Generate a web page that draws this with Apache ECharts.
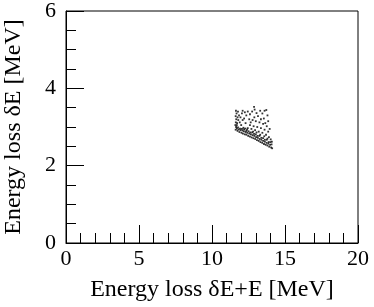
<!DOCTYPE html>
<html>
<head>
<meta charset="utf-8">
<script src="https://cdn.jsdelivr.net/npm/echarts@6/dist/echarts.min.js"></script>
<style>
html,body{margin:0;padding:0;background:#fff;}
#chart{width:374px;height:307px;}
</style>
</head>
<body>
<div id="chart"></div>
<script>
var xTitle = 'Energy loss δE+E [MeV]';
var yTitle = 'Energy loss δE [MeV]';
var xRange = [0, 20];
var yRange = [0, 6];
var points = [
 [11.62,2.93],[11.70,2.96],[11.75,2.90],[11.82,2.94],[11.88,2.87],[11.95,2.92],[12.02,2.85],[12.08,2.91],[12.12,2.83],[12.18,2.89],
 [12.25,2.81],[12.30,2.87],[12.36,2.80],[12.42,2.85],[12.48,2.77],[12.55,2.83],[12.60,2.75],[12.66,2.81],[12.72,2.73],[12.78,2.79],
 [12.84,2.71],[12.90,2.77],[12.96,2.69],[13.02,2.74],[13.08,2.66],[13.14,2.72],[13.20,2.64],[13.26,2.69],[13.32,2.61],[13.38,2.67],
 [13.44,2.59],[13.50,2.64],[13.56,2.56],[13.62,2.62],[13.68,2.54],[13.74,2.59],[13.80,2.52],[13.86,2.57],[13.92,2.49],[13.98,2.54],
 [14.05,2.47],[14.12,2.45],
 [11.65,3.00],[11.78,2.99],[11.92,2.96],[12.05,2.95],[12.20,2.94],[12.35,2.90],[12.50,2.89],[12.62,2.86],[12.75,2.86],[12.88,2.82],
 [13.00,2.81],[13.12,2.77],[13.25,2.77],[13.38,2.72],[13.50,2.71],[13.62,2.67],[13.75,2.67],[13.88,2.61],[14.00,2.61],[14.08,2.55],
 [12.45,2.97],[12.70,2.95],[12.95,2.92],[13.20,2.88],[13.45,2.85],[13.70,2.80],[13.90,2.74],[14.02,2.68],[12.60,3.05],[12.85,3.02],
 [13.10,3.00],[13.35,2.97],[13.60,2.93],[13.85,2.88],[13.95,2.95],[13.75,3.02],[13.50,3.08],[13.25,3.12],[13.00,3.15],[12.78,3.18],
 [12.55,3.20],[12.15,2.98],[12.40,2.93],[12.82,2.88],[13.05,2.86],[13.30,2.80],[13.58,2.76],[13.80,2.70],[14.10,2.62],[12.28,2.96],
 [11.60,3.05],[11.63,3.12],[11.66,3.20],[11.62,3.28],[11.68,3.35],[11.72,3.10],[11.75,3.25],[11.80,3.18],[11.85,3.30],[11.78,3.40],
 [11.64,3.42],[11.70,3.05],[11.90,3.12],[11.95,3.25],[12.00,3.05],[12.05,3.35],[12.10,3.18],
 [12.10,3.42],[12.25,3.38],[12.35,3.30],[12.45,3.40],[12.60,3.33],[12.75,3.40],[12.88,3.52],[12.92,3.45],[13.05,3.36],[13.15,3.28],
 [13.30,3.42],[13.45,3.35],[13.60,3.42],[13.72,3.44],[13.80,3.30],[13.55,3.22],[13.85,3.15],[12.30,3.10],[12.20,3.22],[12.65,3.12],
 [12.90,3.25],[13.35,3.20],[13.65,3.10]
];

var font = "'Liberation Serif', 'DejaVu Serif', 'Times New Roman', serif";
var chart = echarts.init(document.getElementById('chart'));
chart.setOption({
  animation: false,
  grid: {left: 66, right: 16, top: 11, bottom: 64, outerBoundsMode: 'none', containLabel: false,
         show: true, borderColor: '#000', borderWidth: 1, backgroundColor: 'transparent'},
  xAxis: {
    type: 'value', min: xRange[0], max: xRange[1], interval: 5,
    name: xTitle, nameLocation: 'middle', nameGap: 35,
    nameTextStyle: {fontFamily: font, fontSize: 24, color: '#000'},
    axisLine: {lineStyle: {color: '#000', width: 1}},
    axisTick: {inside: true, length: 18, lineStyle: {color: '#000'}},
    minorTick: {show: true, splitNumber: 5, length: 10, lineStyle: {color: '#000'}},
    splitLine: {show: false},
    axisLabel: {fontFamily: font, fontSize: 22, color: '#000', margin: 5}
  },
  yAxis: {
    type: 'value', min: yRange[0], max: yRange[1], interval: 2,
    name: yTitle, nameLocation: 'middle', nameGap: 40, nameRotate: 90,
    nameTextStyle: {fontFamily: font, fontSize: 24, color: '#000'},
    axisLine: {lineStyle: {color: '#000', width: 1}},
    axisTick: {inside: true, length: 18, lineStyle: {color: '#000'}},
    minorTick: {show: true, splitNumber: 4, length: 10, lineStyle: {color: '#000'}},
    splitLine: {show: false},
    axisLabel: {fontFamily: font, fontSize: 22, color: '#000', margin: 10}
  },
  series: [{
    type: 'scatter',
    data: points,
    symbol: 'rect',
    symbolSize: 1.8,
    itemStyle: {color: '#000'}
  }]
});
</script>
</body>
</html>
